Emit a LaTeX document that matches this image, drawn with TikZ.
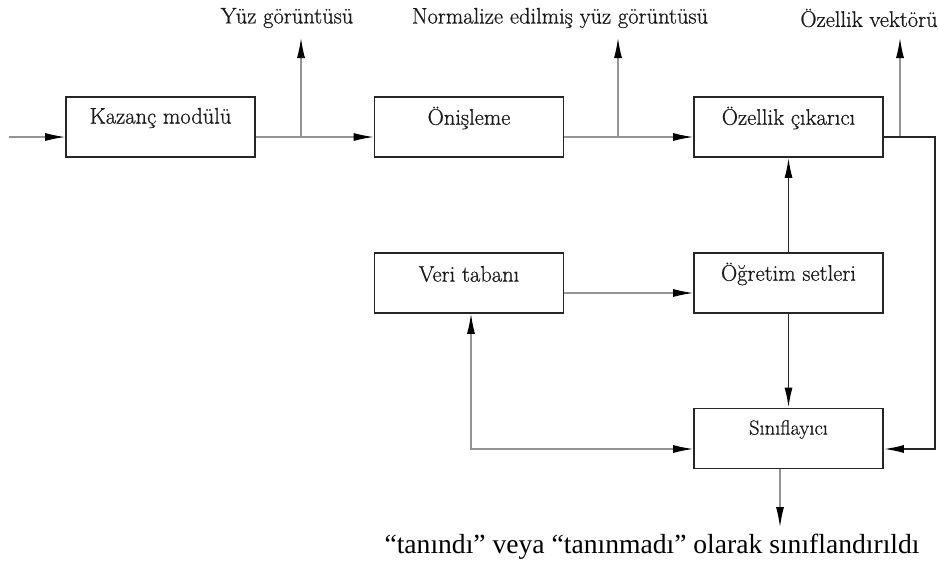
\documentclass[tikz,border=0pt]{standalone}
\usepackage{fontspec}
\newfontfamily\capfont{Liberation Serif}
\newfontfamily\boxfont{Latin Modern Roman}[FakeBold=0.7]
\usetikzlibrary{arrows.meta,calc}
\tikzset{
  blk/.style={draw=black!85, line width=1.7pt, minimum width=189pt, minimum height=60pt, inner sep=0pt},
  lbl/.style={font=\boxfont\fontsize{22.5}{26}\selectfont, inner sep=0pt, text=black!90},
  thin/.style={draw=black!42, line width=1.2pt},
  thick/.style={draw=black!85, line width=1.7pt},
  tip/.style={-{Latex[length=20pt,width=8pt,color=black]}},
  tips/.style={{Latex[length=20pt,width=8pt,color=black]}-{Latex[length=20pt,width=8pt,color=black]}}
}
\begin{document}
\begin{tikzpicture}[x=1pt,y=-1pt]
\useasboundingbox (0,0) rectangle (939,563);

% processing blocks
\node[blk] (k) at (160.5,127) {};
\node[blk] (o) at (469,127) {};
\node[blk] (z) at (788.5,127) {};
\node[blk] (v) at (469,283) {};
\node[blk] (t) at (788.5,283) {};
\node[blk] (s) at (788.5,438.5) {};

\node[lbl] at ([yshift=9pt]k.center) {Kazanç modülü};
\node[lbl] at ([yshift=9pt]o.center) {Önişleme};
\node[lbl] at ([yshift=9pt]z.center) {Özellik çıkarıcı};
\node[lbl] at ([yshift=9pt]v.center) {Veri tabanı};
\node[lbl] at ([yshift=9pt]t.center) {Öğretim setleri};
\node[lbl, font=\boxfont\fontsize{20.5}{24}\selectfont] at ([yshift=9pt]s.center) {Sınıflayıcı};

% output labels
\node[lbl] (y1) at (287,18) {Yüz görüntüsü};
\node[lbl] (y2) at (560,18) {Normalize edilmiş yüz görüntüsü};
\node[lbl] (y3) at (869,18) {Özellik vektörü};
\node[font=\capfont\fontsize{27.6}{31}\selectfont, inner sep=0pt] (res) at (652,547)
  {“tanındı” veya “tanınmadı” olarak sınıflandırıldı};

% tap points and free ends
\coordinate (in) at (9,137);
\coordinate (b1) at (301,137);
\coordinate (b2) at (618,137);
\coordinate (b3) at (900,137);
\coordinate (e1) at (301,38);
\coordinate (e2) at (618,38);
\coordinate (e3) at (900,38);
\coordinate (r1) at (935,137);
\coordinate (r2) at (935,449);
\coordinate (c1) at (471,449);
\coordinate (d1) at (780,469);
\coordinate (d2) at (780,527);

% main chain
\draw[thin,tip] (in) -- ([yshift=-10pt]k.west);
\draw[thin,tip] ([yshift=-10pt]k.east) -- ([yshift=-10pt]o.west);
\draw[thin,tip] ([yshift=-10pt]o.east) -- ([yshift=-10pt]z.west);
\draw[thin,tip] (b1) -- (e1);
\draw[thin,tip] (b2) -- (e2);
\draw[thin,tip] (b3) -- (e3);

% feature vector to classifier
\draw[thick,tip] ([yshift=-10pt]z.east) -- (r1) -- (r2) -- ([yshift=-10.5pt]s.east);

% training sets
\draw[thick,tip] (t.north) -- (z.south);
\draw[thick,tip] (t.south) -- (s.north);
\draw[thin,tip] ([yshift=-10pt]v.east) -- ([yshift=-10pt]t.west);

% classifier and database
\draw[thin,tips] ([xshift=2pt]v.south) -- (c1) -- ([yshift=-10.5pt]s.west);

% decision output
\draw[thin,tip] (d1) -- (d2);
\end{tikzpicture}
\end{document}
